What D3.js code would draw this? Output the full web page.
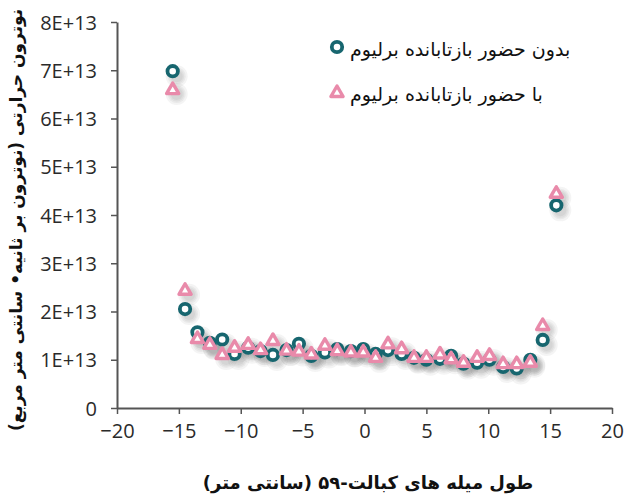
<!DOCTYPE html>
<html>
<head>
<meta charset="utf-8">
<script src="https://cdn.jsdelivr.net/npm/d3@7"></script>
<style>
  html, body { margin: 0; padding: 0; background: #fff; }
  svg { display: block; }
</style>
</head>
<body>
<svg id="chart" width="626" height="496"></svg>
<script>
// Position along the Co-59 rods (cm)
const positions = [-15.5, -14.5, -13.5, -12.5, -11.5, -10.5, -9.4, -8.4, -7.4, -6.3, -5.3,
  -4.3, -3.2, -2.2, -1.1, -0.1, 0.9, 1.9, 3.0, 4.0, 5.0, 6.1, 7.0, 8.0, 9.1, 10.1,
  11.2, 12.3, 13.4, 14.4, 15.5];

// Thermal neutron flux (×1e13 n/s·cm²) without beryllium reflector
const fluxWithout = [6.98, 2.05, 1.57, 1.35, 1.42, 1.12, 1.25, 1.18, 1.10, 1.20, 1.33,
  1.08, 1.15, 1.22, 1.18, 1.22, 1.12, 1.20, 1.12, 1.04, 1.00, 1.02, 1.08, 0.92, 0.94,
  1.00, 0.85, 0.82, 1.00, 1.41, 4.20];

// Thermal neutron flux (×1e13 n/s·cm²) with beryllium reflector
const fluxWith = [6.61, 2.45, 1.45, 1.33, 1.12, 1.27, 1.33, 1.22, 1.41, 1.21, 1.19,
  1.13, 1.31, 1.20, 1.17, 1.17, 1.06, 1.34, 1.24, 1.06, 1.06, 1.13, 1.03, 0.96, 1.06,
  1.10, 0.93, 0.93, 0.96, 1.72, 4.46];

const xTicks = [-20, -15, -10, -5, 0, 5, 10, 15, 20];
const yTicks = [0, 1, 2, 3, 4, 5, 6, 7, 8];
const yTickLabels = ["0", "1E+13", "2E+13", "3E+13", "4E+13", "5E+13", "6E+13", "7E+13", "8E+13"];

const seriesNames = ["بدون حضور بازتابانده برلیوم", "با حضور بازتابانده برلیوم"];
const xTitle = "طول میله های کبالت-۵۹ (سانتی متر)";
const yTitle = "نوترون حرارتی (نوترون بر ثانیه• سانتی متر مربع)";

const tealColor = "#17666f";
const pinkColor = "#e98aaa";
const axisColor = "#555";
const tickFont = "'Open Sans', sans-serif";
const faFont = "'DejaVu Sans', sans-serif";

const svg = d3.select("#chart");

const x = d3.scaleLinear().domain([-20, 20]).range([117, 612]);
const y = d3.scaleLinear().domain([0, 8]).range([408, 22]);

// axes
const xAxis = d3.axisBottom(x).tickValues(xTicks).tickSize(6).tickPadding(10).tickSizeOuter(0);
const yAxis = d3.axisLeft(y).tickValues(yTicks).tickSize(6).tickPadding(14).tickSizeOuter(0)
  .tickFormat((d, i) => yTickLabels[i]);

const gx = svg.append("g").attr("transform", `translate(0,${y(0)})`).call(xAxis);
const gy = svg.append("g").attr("transform", `translate(${x(-20)},0)`).call(yAxis);

[gx, gy].forEach(g => {
  g.select(".domain").attr("stroke", axisColor).attr("stroke-width", 2);
  g.selectAll(".tick line").attr("stroke", axisColor).attr("stroke-width", 1.5);
  g.selectAll(".tick text").attr("fill", "#2a2a2a").style("font-family", tickFont).style("font-size", "20px");
});
gy.selectAll(".tick text").attr("dy", "0.36em");
gx.selectAll(".tick text").attr("dy", "0.72em");

// markers
const tri = d3.symbol().type(d3.symbolTriangle).size(64);
const points = positions.map((p, i) => ({ p, a: fluxWithout[i], b: fluxWith[i] }));

// soft shadow: stacked translucent discs offset down-right of every marker
const shadowAnchors = points.flatMap(d => [
  { cx: x(d.p) + 4, cy: y(d.a) + 5 },
  { cx: x(d.p) + 4, cy: y(d.b) + 5 }
]);
const shadowRings = [11, 9, 7.5, 6];
const shadow = svg.append("g");
shadowRings.forEach(r => {
  shadow.append("g").selectAll("circle").data(shadowAnchors).join("circle")
    .attr("cx", d => d.cx).attr("cy", d => d.cy).attr("r", r)
    .attr("fill", "#444").attr("fill-opacity", 0.06);
});

const marks = svg.append("g");
marks.selectAll("circle").data(points).join("circle")
  .attr("cx", d => x(d.p)).attr("cy", d => y(d.a)).attr("r", 5.2)
  .attr("fill", "#fff").attr("stroke", tealColor).attr("stroke-width", 3.8);
marks.selectAll("path").data(points).join("path")
  .attr("d", tri)
  .attr("transform", d => `translate(${x(d.p)},${y(d.b) + 1})`)
  .attr("fill", "#fff").attr("stroke", pinkColor).attr("stroke-width", 3.4)
  .attr("stroke-linejoin", "round");

// legend
const legend = svg.append("g");
legend.append("circle").attr("cx", 337).attr("cy", 47).attr("r", 5.2)
  .attr("fill", "#fff").attr("stroke", tealColor).attr("stroke-width", 3.8);
legend.append("path").attr("d", tri).attr("transform", "translate(337,93)")
  .attr("fill", "#fff").attr("stroke", pinkColor).attr("stroke-width", 3.4)
  .attr("stroke-linejoin", "round");
legend.selectAll("text").data(seriesNames).join("text")
  .attr("x", 350).attr("y", (d, i) => 56 + i * 45)
  .attr("text-anchor", "start")
  .style("font-family", faFont).style("font-size", "19px").attr("fill", "#111")
  .text(d => d);

// axis titles
svg.append("text")
  .attr("x", 368).attr("y", 489)
  .attr("direction", "rtl").attr("text-anchor", "middle")
  .style("font-family", faFont).style("font-size", "18px").style("font-weight", "bold")
  .attr("fill", "#111")
  .text(xTitle);

svg.append("text")
  .attr("transform", "translate(22,220) rotate(-90)")
  .attr("direction", "rtl").attr("text-anchor", "middle")
  .style("font-family", faFont).style("font-size", "17px").style("font-weight", "bold")
  .attr("fill", "#111")
  .text(yTitle);
</script>
</body>
</html>
